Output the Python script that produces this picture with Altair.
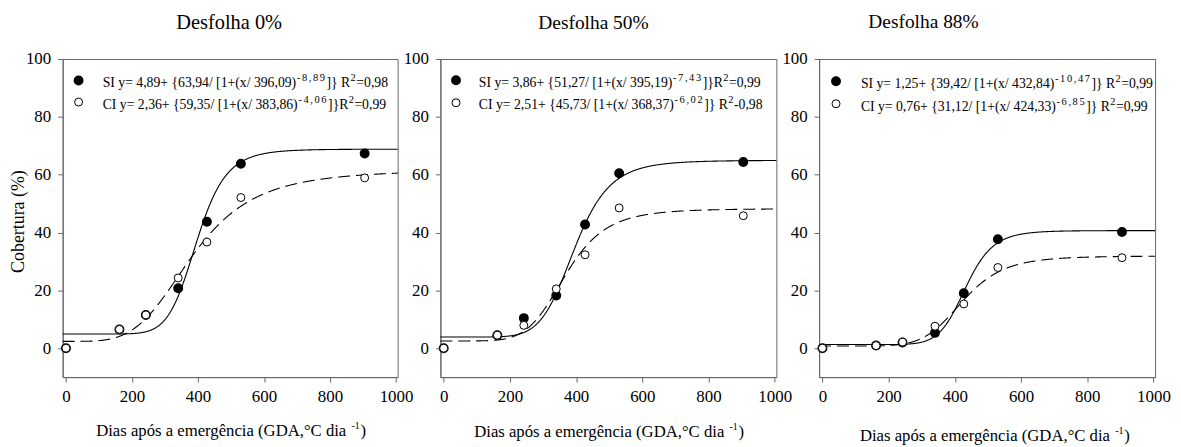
import altair as alt
import pandas as pd

FONT = "Liberation Serif"

# ---------------- data ----------------
gda = [0, 162, 242, 340, 427, 530, 905]

si_0 = [0, 6.5, 11.5, 20.7, 43.7, 63.8, 67.3]
ci_0 = [0, 6.5, 11.5, 24.3, 36.7, 52.1, 58.9]
si_50 = [0, 4.5, 10.4, 18.2, 42.8, 60.5, 64.4]
ci_50 = [0, 4.5, 7.9, 20.5, 32.3, 48.5, 45.8]
si_88 = [0, 0.9, 2.0, 5.3, 19.0, 37.7, 40.2]
ci_88 = [0, 0.9, 2.1, 7.6, 15.3, 27.9, 31.3]

# fitted curves as drawn: y0, a, x0, b  (50% SI amplitude)
fit_si_0 = (4.89, 63.94, 396.09, -8.89)
fit_ci_0 = (2.36, 59.35, 383.86, -4.06)
fit_si_50 = (3.86, 61.1, 395.19, -7.43)
fit_ci_50 = (2.51, 45.73, 368.37, -6.02)
fit_si_88 = (1.25, 39.42, 432.84, -10.47)
fit_ci_88 = (0.76, 31.12, 424.33, -6.85)

titles = ["Desfolha 0%", "Desfolha 50%", "Desfolha 88%"]

# legend equations: (prefix, exponent, middle, r2 value text)
eq_si = [("SI y= 4,89+ {63,94/ [1+(x/ 396,09)", "-8,89", "]} R", "=0,98"),
         ("SI y= 3,86+ {51,27/ [1+(x/ 395,19)", "-7,43", "]}R", "=0,99"),
         ("SI y= 1,25+ {39,42/ [1+(x/ 432,84)", "-10,47", "]} R", "=0,99")]
eq_ci = [("CI y= 2,36+ {59,35/ [1+(x/ 383,86)", "-4,06", "]}R", "=0,99"),
         ("CI y= 2,51+ {45,73/ [1+(x/ 368,37)", "-6,02", "]} R", "-0,98"),
         ("CI y= 0,76+ {31,12/ [1+(x/ 424,33)", "-6,85", "]} R", "=0,99")]

x_ticks = [0, 200, 400, 600, 800, 1000]
y_ticks = [0, 20, 40, 60, 80, 100]

# ---------------- layout (pixels, relative to each plot area) ----------------
W_PANEL = [337, 338, 338]
H = 320
title_pos = [(167.5, -30, 20.5), (154, -30, 19.5), (105, -31, 19.5)]
leg_sym_x = [16, 15.7, 17]
leg_sym_y = [(21.7, 43.3), (21.3, 44.0), (22.3, 45.0)]
leg_txt_x = [40.3, 38.7, 42]
leg_base = [(27.7, 50.3), (28.0, 50.7), (29.0, 52.0)]
xt_pos = [(33.7, 379.5), (34, 380), (41, 384)]

LEG_FS = 13.8
SUP_FS = 10.5
SUP_RISE = 6
EXP_TRACK = 1.6
XT_FS = 16.8
TICK_FS = 17

# Times / Liberation Serif advance widths (1/1000 em)
CW = {' ': 250, ',': 250, '.': 250, '+': 564, '-': 333, '=': 564, '{': 480, '}': 480,
      '[': 333, ']': 333, '(': 333, ')': 333, '/': 278, 'x': 500, 'y': 500, 'S': 556,
      'I': 333, 'C': 667, 'R': 667, 'D': 722, 'i': 278, 'a': 444, 's': 389, 'p': 500,
      'ó': 500, 'e': 444, 'm': 778, 'r': 333, 'g': 500, 'ê': 444, 'n': 500, 'c': 444,
      'G': 722, 'A': 722, '°': 400, 'd': 500}


def tw(s, fs):
    return sum(CW.get(c, 500) for c in s) / 1000.0 * fs


one = pd.DataFrame({"k": [0]})


def txt(s, x, y, fs, align="left", baseline="alphabetic", angle=None):
    kw = dict(text=s, font=FONT, fontSize=fs, align=align, baseline=baseline, color="black")
    if angle is not None:
        kw["angle"] = angle
    return alt.Chart(one).mark_text(**kw).encode(x=alt.value(x), y=alt.value(y))


def eq_layers(parts, x, base):
    pre, expo, mid, r2 = parts
    out = [txt(pre, x, base, LEG_FS)]
    x += tw(pre, LEG_FS) + 0.5
    for ch in expo:
        out.append(txt(ch, x, base - SUP_RISE, SUP_FS))
        x += tw(ch, SUP_FS) + EXP_TRACK
    out.append(txt(mid, x, base, LEG_FS))
    x += tw(mid, LEG_FS) + 0.3
    out.append(txt("2", x, base - SUP_RISE, SUP_FS))
    x += tw("2", SUP_FS) + 0.5
    out.append(txt(r2, x, base, LEG_FS))
    return out


def curve_expr(p):
    y0, a, x0, b = p
    return f"{y0}+{a}/(1+pow(max(datum.x,0.01)/{x0},{b}))"


def panel(i, si, ci, fsi, fci):
    w = W_PANEL[i]
    X = alt.X("x:Q", scale=alt.Scale(domain=[-10, 1005], nice=False, zero=False),
              axis=alt.Axis(values=x_ticks, title=None, labelPadding=7, format="d"))
    Y = alt.Y("y:Q", scale=alt.Scale(domain=[-10, 100], nice=False, zero=False),
              axis=alt.Axis(values=y_ticks, title=None, labelPadding=7, format="d"))

    seq = alt.sequence(-10, 1006, 1, as_="x")
    line_si = alt.Chart(seq).transform_calculate(y=curve_expr(fsi)).mark_line(
        color="black", strokeWidth=1.1).encode(x=X, y=Y)
    line_ci = alt.Chart(seq).transform_calculate(y=curve_expr(fci)).mark_line(
        color="black", strokeWidth=1.1, strokeDash=[12, 6]).encode(x=X, y=Y)

    d_si = pd.DataFrame({"x": gda, "y": si})
    d_ci = pd.DataFrame({"x": gda, "y": ci})
    pts_si = alt.Chart(d_si).mark_point(shape="circle", filled=True, fill="black",
                                        stroke="black", size=64, opacity=1).encode(x=X, y=Y)
    pts_ci = alt.Chart(d_ci).mark_point(shape="circle", filled=True, fill="white",
                                        stroke="black", strokeWidth=1, size=64,
                                        opacity=1).encode(x=X, y=Y)

    layers = [line_si, line_ci, pts_si, pts_ci]

    # legend symbols
    sx = leg_sym_x[i]
    sy1, sy2 = leg_sym_y[i]
    layers.append(alt.Chart(one).mark_point(shape="circle", filled=True, fill="black",
                                            stroke="black", size=64, opacity=1)
                  .encode(x=alt.value(sx), y=alt.value(sy1)))
    layers.append(alt.Chart(one).mark_point(shape="circle", filled=True, fill="white",
                                            stroke="black", strokeWidth=1, size=64, opacity=1)
                  .encode(x=alt.value(sx), y=alt.value(sy2)))
    b1, b2 = leg_base[i]
    layers += eq_layers(eq_si[i], leg_txt_x[i], b1)
    layers += eq_layers(eq_ci[i], leg_txt_x[i], b2)

    # panel title
    tx, ty, tfs = title_pos[i]
    layers.append(txt(titles[i], tx, ty, tfs, align="center"))

    # x-axis title with superscript
    xx, xy = xt_pos[i]
    main = "Dias após a emergência  (GDA,°C dia"
    layers.append(txt(main, xx, xy, XT_FS))
    xx2 = xx + tw(main, XT_FS) + 0.5
    layers.append(txt("-1", xx2, xy - 7, 10))
    layers.append(txt(")", xx2 + tw("-1", 10) + 0.8, xy, XT_FS))

    if i == 0:
        layers.append(txt("Cobertura (%)", -43.5, 163.5, 18, align="center",
                          baseline="middle", angle=270))

    return alt.layer(*layers).properties(width=w, height=H)


p1 = panel(0, si_0, ci_0, fit_si_0, fit_ci_0)
p2 = panel(1, si_50, ci_50, fit_si_50, fit_ci_50)
p3 = panel(2, si_88, ci_88, fit_si_88, fit_ci_88)

chart = alt.hconcat(p1, p2, p3, spacing=43, bounds="flush").properties(
    padding={"left": 2, "top": 2, "right": 2, "bottom": 2},
    background="white",
).configure_view(stroke="#666666", strokeWidth=1).configure_axis(
    labelFont=FONT, labelFontSize=TICK_FS, labelColor="black", domainColor="#666666",
    tickColor="#666666", tickSize=5, grid=False, domainWidth=1, tickWidth=1
)

chart.save("out.html", embed_options={"renderer": "svg", "actions": False})
